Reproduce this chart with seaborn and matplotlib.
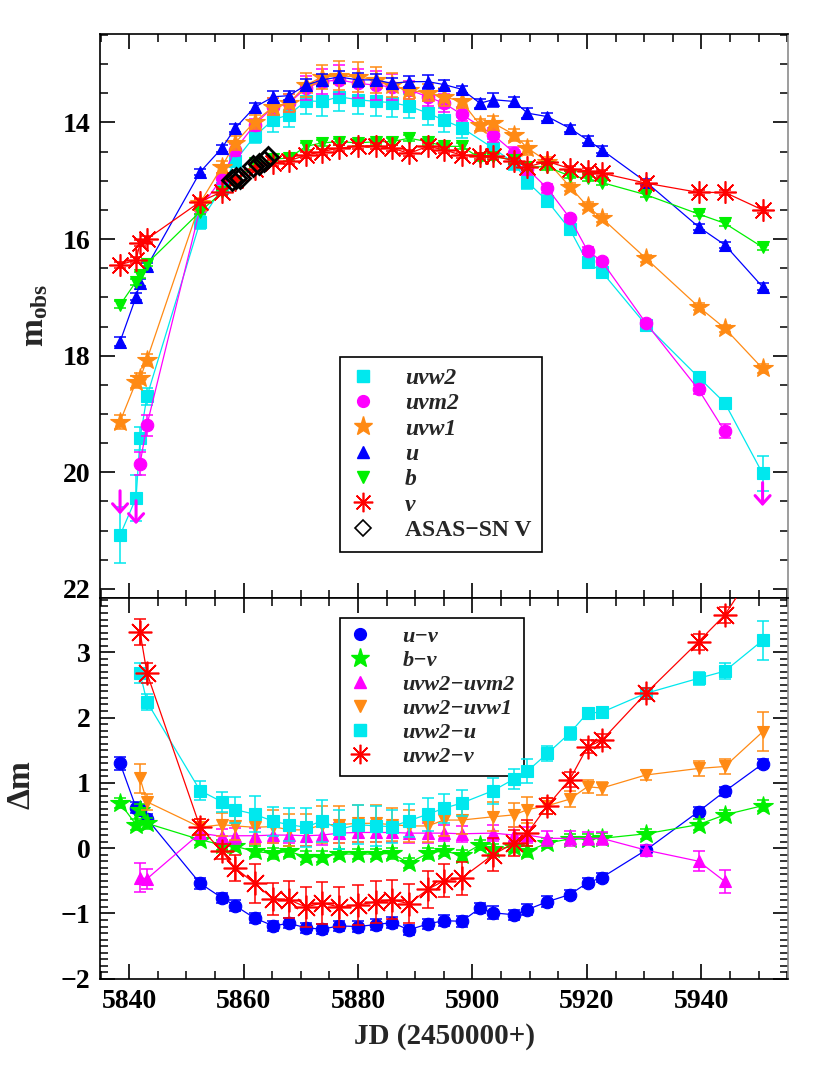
"""Swift UVOT light curves (top) and colour curves (bottom) of the transient."""

import numpy as np
import pandas as pd
import matplotlib

matplotlib.use("Agg")
import matplotlib.pyplot as plt
from matplotlib.lines import Line2D
from matplotlib.ticker import MultipleLocator
import seaborn as sns

NAN = np.nan

# epochs (JD - 2450000)
jd = [5838.4, 5841.2, 5841.9, 5843.1, 5852.4, 5856.2, 5858.5, 5861.9, 5865.2, 5867.9,
      5870.9, 5873.7, 5876.7, 5880.0, 5883.1, 5885.9, 5888.9, 5892.2, 5895.0, 5898.1,
      5901.3, 5903.6, 5907.3, 5909.6, 5913.1, 5917.0, 5920.1, 5922.6, 5930.3, 5939.5,
      5944.1, 5950.7]

# ---- top panel: observed magnitudes
uvw2 = [21.08, 20.44, 19.42, 18.70, 15.70, 15.13, 14.66, 14.24, 13.95, 13.87,
        13.63, 13.64, 13.56, 13.61, 13.64, 13.66, 13.72, 13.84, 13.96, 14.09,
        NAN, 14.44, 14.70, 15.02, 15.35, 15.83, 16.40, 16.56, 17.47, 18.37,
        18.81, 20.02]
uvw2_err = [0.48, 0.40, 0.20, 0.15, 0.12, 0.10, 0.10, 0.12, 0.22, 0.20,
            0.22, 0.25, 0.25, 0.25, 0.25, 0.25, 0.20, 0.20, 0.20, 0.18,
            NAN, 0.15, 0.12, 0.12, 0.10, 0.08, 0.08, 0.08, 0.06, 0.06,
            0.08, 0.30]
uvm2 = [NAN, NAN, 19.85, 19.19, 15.47, 14.96, 14.47, 14.04, 13.73, 13.67,
        13.41, 13.30, 13.27, 13.33, 13.36, 13.39, 13.44, 13.56, 13.67, 13.86,
        NAN, 14.21, 14.52, 14.80, 15.13, 15.64, 16.20, 16.38, 17.44, 18.58,
        19.30, NAN]
uvm2_err = [NAN, NAN, 0.20, 0.18, 0.10, 0.10, 0.10, 0.10, 0.15, 0.15,
            0.20, 0.22, 0.25, 0.25, 0.25, 0.22, 0.15, 0.15, 0.15, 0.12,
            NAN, 0.12, 0.10, 0.10, 0.08, 0.06, 0.06, 0.06, 0.05, 0.08,
            0.12, NAN]
uvm2_lim_jd = [5838.4, 5841.2, 5950.7]
uvm2_lim = [20.27, 20.44, 20.13]
uvw1 = [19.13, 18.45, 18.39, 18.07, 15.38, 14.76, 14.35, 13.99, 13.73, 13.67,
        13.36, 13.22, 13.20, 13.22, 13.27, 13.36, 13.45, 13.49, 13.56, 13.64,
        14.04, 14.01, 14.21, 14.44, 14.67, 15.10, 15.44, 15.64, 16.33, 17.16,
        17.53, 18.22]
uvw1_err = [0.12, 0.10, 0.10, 0.10, 0.08, 0.10, 0.12, 0.12, 0.15, 0.15,
            0.20, 0.20, 0.25, 0.25, 0.22, 0.20, 0.15, 0.15, 0.15, 0.12,
            0.10, 0.12, 0.10, 0.12, 0.08, 0.07, 0.07, 0.07, 0.06, 0.06,
            0.06, 0.08]
u = [17.76, 16.99, 16.75, 16.47, 14.85, 14.44, 14.10, 13.74, 13.56, 13.54,
     13.36, 13.27, 13.22, 13.27, 13.27, 13.33, 13.30, 13.30, 13.35, 13.43,
     13.67, 13.61, 13.64, 13.84, 13.90, 14.10, 14.30, 14.47, 15.02, 15.79,
     16.10, 16.82]
u_err = [0.08, 0.06, 0.06, 0.06, 0.05, 0.06, 0.07, 0.08, 0.10, 0.08,
         0.10, 0.10, 0.10, 0.12, 0.10, 0.10, 0.10, 0.12, 0.08, 0.06,
         0.08, 0.12, 0.08, 0.08, 0.07, 0.06, 0.06, 0.06, 0.05, 0.05,
         0.05, 0.06]
b = [17.13, 16.73, 16.62, 16.42, 15.53, 15.20, 15.03, 14.70, 14.63, 14.61,
     14.41, 14.35, 14.33, 14.35, 14.33, 14.33, 14.27, 14.33, 14.41, 14.41,
     14.61, 14.59, 14.64, 14.76, 14.76, 14.92, 14.96, 15.03, 15.24, 15.57,
     15.73, 16.14]
b_err = [0.06, 0.05, 0.05, 0.05, 0.04, 0.05, 0.05, 0.06, 0.05, 0.05,
         0.06, 0.05, 0.05, 0.05, 0.05, 0.06, 0.05, 0.05, 0.05, 0.05,
         0.05, 0.05, 0.05, 0.05, 0.05, 0.04, 0.04, 0.04, 0.04, 0.04,
         0.04, 0.04]
v = [16.44, 16.36, 16.07, 16.00, 15.36, 15.19, 14.99, 14.79, 14.70, 14.66,
     14.56, 14.50, 14.44, 14.41, 14.40, 14.44, 14.53, 14.41, 14.47, 14.56,
     14.57, 14.57, 14.66, 14.76, 14.67, 14.79, 14.83, 14.87, 15.04, 15.20,
     15.20, 15.50]
v_err = [0.05] * 32
asas_jd = [5858.0, 5858.7, 5859.3, 5861.6, 5862.6, 5863.5, 5864.2]
asas_v = [14.98, 14.95, 14.96, 14.75, 14.72, 14.66, 14.60]

# ---- bottom panel: colours
u_v = [1.30, 0.62, 0.58, 0.45, -0.54, -0.76, -0.88, -1.07, -1.19, -1.15,
       -1.22, -1.24, -1.19, -1.20, -1.17, -1.14, -1.25, -1.16, -1.11, -1.12,
       -0.92, -0.99, -1.02, -0.94, -0.82, -0.71, -0.53, -0.45, -0.03, 0.56,
       0.87, 1.29]
u_v_err = [0.10, 0.08, 0.08, 0.08, 0.08, 0.08, 0.08, 0.08, 0.08, 0.08,
           0.08, 0.08, 0.08, 0.08, 0.08, 0.08, 0.08, 0.08, 0.08, 0.08,
           0.08, 0.10, 0.08, 0.08, 0.08, 0.07, 0.07, 0.07, 0.07, 0.07,
           0.07, 0.07]
b_v = [0.69, 0.36, 0.59, 0.38, 0.13, 0.05, 0.03, -0.05, -0.08, -0.05,
       -0.13, -0.13, -0.09, -0.09, -0.09, -0.08, -0.23, -0.08, -0.04, -0.11,
       0.05, -0.01, 0.02, -0.05, 0.08, 0.14, 0.14, 0.15, 0.22, 0.36,
       0.51, 0.65]
b_v_err = [0.08] * 32
w2_m2 = [NAN, NAN, -0.45, -0.47, 0.23, 0.18, 0.19, 0.19, 0.20, 0.20,
         0.19, 0.20, 0.23, 0.24, 0.24, 0.24, 0.23, 0.23, 0.23, 0.22,
         NAN, 0.23, 0.20, 0.20, 0.15, 0.15, 0.15, 0.15, -0.03, -0.20,
         -0.51, NAN]
w2_m2_err = [NAN, NAN, 0.22, 0.15, 0.08, 0.12, 0.12, 0.12, 0.12, 0.12,
             0.15, 0.15, 0.15, 0.15, 0.15, 0.15, 0.15, 0.15, 0.12, 0.12,
             NAN, 0.12, 0.12, 0.12, 0.12, 0.12, 0.10, 0.10, 0.08, 0.15,
             0.18, NAN]
w2_w1 = [NAN, NAN, 1.07, 0.71, 0.32, 0.36, 0.34, 0.32, 0.33, 0.28,
         0.28, 0.36, 0.36, 0.38, 0.38, 0.36, 0.34, 0.34, 0.43, 0.43,
         NAN, 0.48, 0.51, 0.59, 0.65, 0.75, 0.94, 0.92, 1.12, 1.22,
         1.25, 1.78]
w2_w1_err = [NAN, NAN, 0.22, 0.12, 0.12, 0.18, 0.22, 0.25, 0.25, 0.25,
             0.25, 0.28, 0.28, 0.28, 0.28, 0.25, 0.25, 0.25, 0.25, 0.22,
             NAN, 0.22, 0.18, 0.2, 0.12, 0.12, 0.1, 0.1, 0.08, 0.12,
             0.12, 0.30]
w2_u = [NAN, NAN, 2.68, 2.24, 0.88, 0.71, 0.59, 0.52, 0.41, 0.36,
        0.32, 0.42, 0.29, 0.36, 0.34, 0.33, 0.42, 0.52, 0.61, 0.69,
        NAN, 0.88, 1.06, 1.18, 1.45, 1.76, 2.07, 2.08, 2.37, 2.60,
        2.71, 3.18]
w2_u_err = [NAN, NAN, 0.15, 0.12, 0.15, 0.15, 0.20, 0.28, 0.22, 0.25,
            0.30, 0.32, 0.30, 0.30, 0.30, 0.25, 0.25, 0.25, 0.22, 0.20,
            NAN, 0.20, 0.15, 0.18, 0.12, 0.10, 0.08, 0.08, 0.08, 0.10,
            0.12, 0.30]
w2_v = [NAN, NAN, 3.31, 2.68, 0.32, -0.05, -0.30, -0.54, -0.78, -0.79,
        -0.90, -0.84, -0.90, -0.87, -0.82, -0.79, -0.85, -0.63, -0.50, -0.46,
        NAN, -0.10, 0.08, 0.23, 0.65, 1.05, 1.55, 1.65, 2.37, 3.16,
        3.57, 4.45]
w2_v_err = [NAN, NAN, 0.20, 0.15, 0.12, 0.12, 0.20, 0.30, 0.25, 0.28,
            0.30, 0.32, 0.30, 0.30, 0.32, 0.30, 0.30, 0.28, 0.25, 0.25,
            NAN, 0.25, 0.20, 0.20, 0.12, 0.12, 0.10, 0.10, 0.08, 0.12,
            0.12, 0.30]

CYAN = "#00e8ee"
MAGENTA = "#ff00ff"
ORANGE = "#ff8a14"
BLUE = "#0000ff"
GREEN = "#00f000"
RED = "#ff0000"
ASTER = (8, 2, 0)

sns.set_theme(style="ticks")
plt.rcParams["font.family"] = ["Liberation Serif", "DejaVu Serif"]
plt.rcParams.update({
    "font.weight": "bold",
    "axes.labelweight": "bold",
    "mathtext.fontset": "custom",
    "mathtext.rm": "Liberation Serif:bold",
    "mathtext.bf": "Liberation Serif:bold",
    "mathtext.it": "Liberation Serif:bold:italic",
    "axes.linewidth": 1.2,
    "axes.edgecolor": "black",
    "xtick.direction": "in",
    "ytick.direction": "in",
    "xtick.color": "black",
    "ytick.color": "black",
})


def draw(ax, y, err, color, marker, ms, z, mew=0.8):
    d = pd.DataFrame({"jd": jd, "val": y, "err": err}).dropna(subset=["val"])
    ax.errorbar(d["jd"], d["val"], yerr=d["err"], fmt="none", ecolor=color,
                elinewidth=1.1, capsize=4, capthick=1.1, zorder=z)
    sns.lineplot(data=d, x="jd", y="val", ax=ax, color=color, linewidth=0.9,
                 marker=marker, markersize=ms, markeredgecolor=color,
                 markeredgewidth=mew, estimator=None, sort=True, legend=False,
                 zorder=z + 0.5)
    if marker == ASTER:
        # small filled centre of the asterisk symbol
        ax.plot(d["jd"], d["val"], ls="none", marker="o", ms=3.2, color=color,
                zorder=z + 0.6)


def style_axis(ax, minor_y):
    ax.set_xlim(5834.9, 5955.2)
    ax.xaxis.set_major_locator(MultipleLocator(20))
    ax.xaxis.set_minor_locator(MultipleLocator(5))
    ax.yaxis.set_minor_locator(MultipleLocator(minor_y))
    ax.tick_params(which="both", top=True, right=True, labelsize=20, pad=7)
    ax.tick_params(which="major", length=11, width=1.2)
    ax.tick_params(which="minor", length=6, width=1.1)
    ax.spines["right"].set_color("#8c8c8c")
    ax.set_xlabel("")
    ax.set_ylabel("")


fig = plt.figure(figsize=(8.3, 10.89), dpi=100)
ax1 = fig.add_axes([0.1205, 0.4509, 0.8293, 0.5183])
ax2 = fig.add_axes([0.1205, 0.1006, 0.8293, 0.3503])

# top panel
draw(ax1, uvw2, uvw2_err, CYAN, "s", 8.5, 2)
draw(ax1, uvm2, uvm2_err, MAGENTA, "o", 9, 3)
for xj, yl in zip(uvm2_lim_jd, uvm2_lim):
    ax1.annotate("", xy=(xj, yl + 0.5), xytext=(xj, yl),
                 arrowprops=dict(arrowstyle="->,head_width=0.45,head_length=0.5",
                                 color=MAGENTA, lw=2.2), zorder=3)
draw(ax1, uvw1, uvw1_err, ORANGE, "*", 15, 4)
draw(ax1, u, u_err, BLUE, "^", 9, 5)
draw(ax1, b, b_err, GREEN, "v", 9, 6)
draw(ax1, v, v_err, RED, ASTER, 16, 7, mew=1.2)
ax1.plot(asas_jd, asas_v, ls="none", marker="D", ms=10, mfc="none", mec="black",
         mew=2.0, zorder=9)

style_axis(ax1, 0.5)
ax1.set_ylim(22.156, 12.475)
ax1.yaxis.set_major_locator(MultipleLocator(2))
ax1.tick_params(labelbottom=False)
ax1.set_ylabel(r"$\mathrm{m}_{\mathrm{obs}}$", fontsize=24)
ax1.yaxis.set_label_coords(-0.072, 0.5)

top_handles = [
    Line2D([], [], ls="none", marker="s", ms=8, color=CYAN),
    Line2D([], [], ls="none", marker="o", ms=8.5, color=MAGENTA),
    Line2D([], [], ls="none", marker="*", ms=14, color=ORANGE),
    Line2D([], [], ls="none", marker="^", ms=8, color=BLUE),
    Line2D([], [], ls="none", marker="v", ms=8, color=GREEN),
    Line2D([], [], ls="none", marker=ASTER, ms=14, mew=1.2, color=RED),
    Line2D([], [], ls="none", marker="D", ms=8, mfc="none", mec="black", mew=1.2),
]
top_labels = ["uvw2", "uvm2", "uvw1", "u", "b", "v", "ASAS\u2212SN V"]
leg1 = ax1.legend(top_handles, top_labels, loc="upper left",
                  bbox_to_anchor=(0.349, 0.427), borderaxespad=0, frameon=True,
                  fancybox=False, edgecolor="black", framealpha=1,
                  fontsize=17, labelspacing=0.16, handlelength=1.0,
                  handletextpad=1.3, borderpad=0.45)
leg1.get_frame().set_linewidth(1.2)
for i, t in enumerate(leg1.get_texts()):
    t.set_fontweight("bold")
    if i < 6:
        t.set_fontstyle("italic")

# bottom panel
draw(ax2, u_v, u_v_err, BLUE, "o", 9, 2)
draw(ax2, b_v, b_v_err, GREEN, "*", 15, 3)
draw(ax2, w2_m2, w2_m2_err, MAGENTA, "^", 9, 4)
draw(ax2, w2_w1, w2_w1_err, ORANGE, "v", 9, 5)
draw(ax2, w2_u, w2_u_err, CYAN, "s", 8.5, 6)
draw(ax2, w2_v, w2_v_err, RED, ASTER, 17, 7, mew=1.2)

style_axis(ax2, 0.1)
ax2.set_ylim(-2.01, 3.83)
ax2.yaxis.set_major_locator(MultipleLocator(1))
ax2.set_xlabel("JD (2450000+)", fontsize=21, labelpad=6)
ax2.set_ylabel("\u0394m", fontsize=24)
ax2.yaxis.set_label_coords(-0.092, 0.51)

bot_handles = [
    Line2D([], [], ls="none", marker="o", ms=8.5, color=BLUE),
    Line2D([], [], ls="none", marker="*", ms=14, color=GREEN),
    Line2D([], [], ls="none", marker="^", ms=8, color=MAGENTA),
    Line2D([], [], ls="none", marker="v", ms=8, color=ORANGE),
    Line2D([], [], ls="none", marker="s", ms=8, color=CYAN),
    Line2D([], [], ls="none", marker=ASTER, ms=14, mew=1.2, color=RED),
]
bot_labels = ["u\u2212v", "b\u2212v", "uvw2\u2212uvm2", "uvw2\u2212uvw1",
              "uvw2\u2212u", "uvw2\u2212v"]
leg2 = ax2.legend(bot_handles, bot_labels, loc="upper left",
                  bbox_to_anchor=(0.349, 0.948), borderaxespad=0, frameon=True,
                  fancybox=False, edgecolor="black", framealpha=1,
                  fontsize=16, labelspacing=0.15, handlelength=1.0,
                  handletextpad=1.4, borderpad=0.4)
leg2.get_frame().set_linewidth(1.2)
for t in leg2.get_texts():
    t.set_fontweight("bold")
    t.set_fontstyle("italic")

fig.savefig("out.png", dpi=100)
